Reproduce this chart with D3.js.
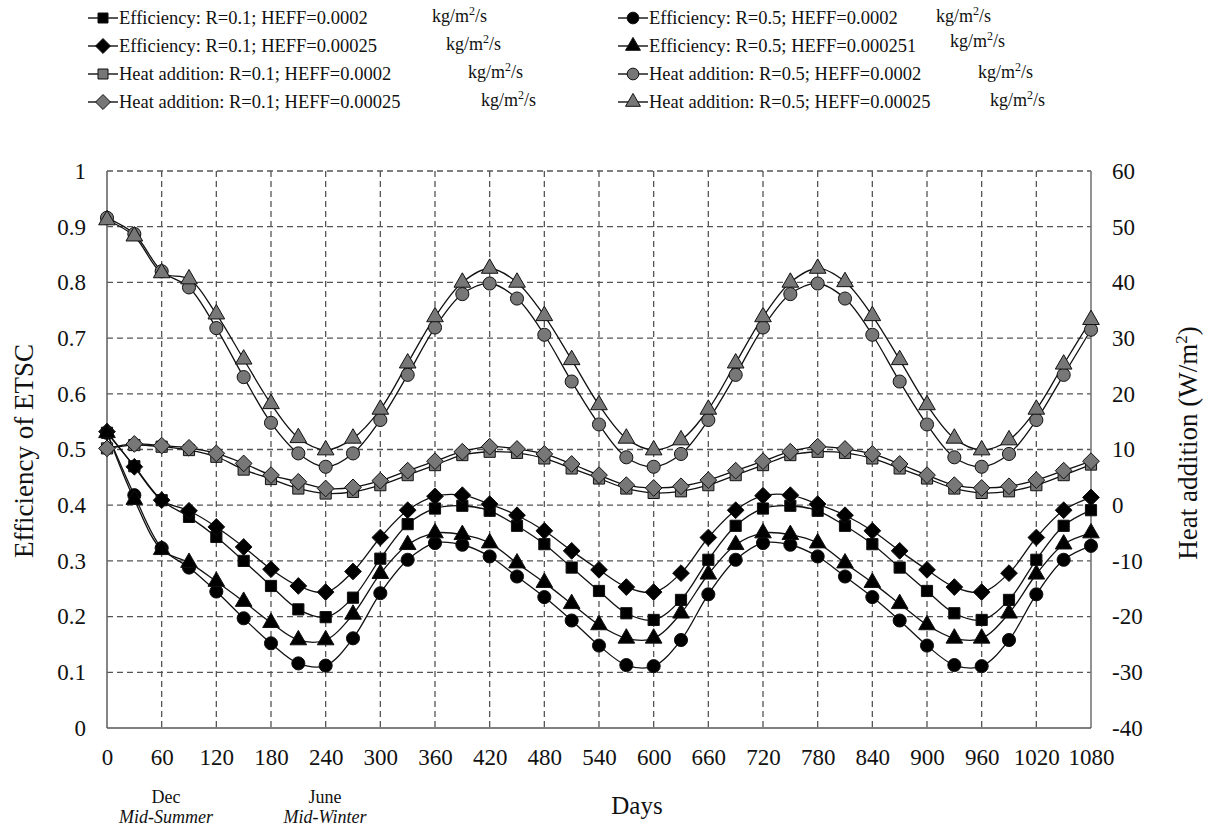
<!DOCTYPE html>
<html>
<head>
<meta charset="utf-8">
<script src="https://cdn.jsdelivr.net/npm/d3@7/dist/d3.min.js"></script>
<style>
  html, body { margin: 0; padding: 0; background: #fff; }
  svg { display: block; }
  text { font-family: "Liberation Serif", "Times New Roman", serif; fill: #111; }
</style>
</head>
<body>
<svg id="chart" width="1209" height="827"></svg>
<script>
// ---------------- DATA ----------------
const days = [0,30,60,90,120,150,180,210,240,270,300,330,360,390,420,450,480,510,540,570,600,630,660,690,720,750,780,810,840,870,900,930,960,990,1020,1050,1080];
const xTicks = [0,60,120,180,240,300,360,420,480,540,600,660,720,780,840,900,960,1020,1080];
const yLeftTicks = [0,0.1,0.2,0.3,0.4,0.5,0.6,0.7,0.8,0.9,1];
const yRightTicks = [-40,-30,-20,-10,0,10,20,30,40,50,60];

// Efficiency (left axis, fraction)
const effR01H0002 = [0.530,0.470,0.409,0.379,0.343,0.300,0.255,0.213,0.199,0.234,0.304,0.366,0.394,0.399,0.390,0.363,0.330,0.288,0.246,0.206,0.194,0.230,0.302,0.363,0.394,0.399,0.390,0.363,0.330,0.288,0.246,0.206,0.194,0.230,0.302,0.363,0.391];
const effR01H00025 = [0.532,0.469,0.409,0.390,0.361,0.325,0.285,0.255,0.244,0.281,0.342,0.391,0.416,0.418,0.402,0.382,0.354,0.318,0.284,0.253,0.244,0.278,0.342,0.391,0.417,0.418,0.402,0.382,0.354,0.318,0.284,0.253,0.244,0.278,0.342,0.391,0.414];
const effR05H0002 = [0.530,0.418,0.323,0.288,0.245,0.197,0.152,0.116,0.112,0.161,0.242,0.302,0.332,0.329,0.308,0.272,0.235,0.193,0.148,0.113,0.111,0.158,0.240,0.302,0.332,0.329,0.308,0.272,0.235,0.193,0.148,0.113,0.111,0.158,0.240,0.302,0.327];
const effR05H00025 = [0.530,0.410,0.320,0.297,0.263,0.227,0.189,0.158,0.158,0.204,0.277,0.329,0.350,0.347,0.332,0.296,0.261,0.223,0.185,0.161,0.161,0.206,0.276,0.329,0.350,0.347,0.332,0.296,0.261,0.223,0.185,0.161,0.161,0.206,0.276,0.330,0.350];

// Heat addition (right axis, W/m2)
const heatR01H0002 = [10.2,10.8,10.5,9.9,8.7,6.4,4.7,3.0,2.1,2.4,3.6,5.4,7.2,9.0,9.6,9.4,8.4,6.6,4.8,3.0,2.2,2.5,3.6,5.4,7.2,9.0,9.6,9.4,8.4,6.6,4.8,3.0,2.2,2.5,3.6,5.4,7.3];
const heatR01H00025 = [10.2,11.0,10.7,10.3,9.3,7.5,5.4,4.2,3.0,3.2,4.4,6.2,7.9,9.6,10.5,10.1,9.2,7.4,5.4,3.6,3.1,3.4,4.5,6.2,7.9,9.6,10.5,10.1,9.2,7.4,5.4,3.6,3.1,3.4,4.5,6.2,7.9];
const heatR05H0002 = [51.6,48.7,42.0,39.1,31.8,23.0,14.8,9.3,6.9,9.3,15.3,23.4,31.9,37.9,39.8,37.1,30.6,22.2,14.5,8.6,6.9,9.2,15.3,23.4,31.9,37.9,39.8,37.1,30.6,22.2,14.5,8.6,6.9,9.2,15.3,23.4,31.5];
const heatR05H00025 = [51.2,48.3,41.7,40.6,34.3,26.2,18.2,12.1,9.9,12.0,17.2,25.5,33.8,40.0,42.5,40.0,34.0,26.1,18.0,12.0,9.9,11.7,17.2,25.5,33.8,40.0,42.5,40.1,34.0,26.1,18.0,12.0,9.9,11.7,17.2,25.3,33.3];

const seriesLabels = [
  "Efficiency: R=0.1; HEFF=0.0002",
  "Efficiency: R=0.1; HEFF=0.00025",
  "Heat addition: R=0.1; HEFF=0.0002",
  "Heat addition: R=0.1; HEFF=0.00025",
  "Efficiency: R=0.5; HEFF=0.0002",
  "Efficiency: R=0.5; HEFF=0.000251",
  "Heat addition: R=0.5; HEFF=0.0002",
  "Heat addition: R=0.5; HEFF=0.00025"
];
const unitLabel = "kg/m";

// ---------------- LAYOUT ----------------
const svg = d3.select("#chart");
const x = d3.scaleLinear().domain([0,1080]).range([107,1091]);
const yL = d3.scaleLinear().domain([0,1]).range([728,171]);
const yR = d3.scaleLinear().domain([-40,60]).range([728,171]);

// square rotated 45 degrees (equal width & height)
const symbolRhombus = {
  draw(ctx, size) {
    const r = Math.sqrt(size / 2);
    ctx.moveTo(0, -r); ctx.lineTo(r, 0); ctx.lineTo(0, r); ctx.lineTo(-r, 0); ctx.closePath();
  }
};

const series = [
  {label: seriesLabels[0], values: effR01H0002,  axis: yL, shape: d3.symbolSquare,   size: 125, fill: "#000"},
  {label: seriesLabels[1], values: effR01H00025, axis: yL, shape: symbolRhombus,     size: 140, fill: "#000"},
  {label: seriesLabels[2], values: heatR01H0002, axis: yR, shape: d3.symbolSquare,   size: 125, fill: "#777"},
  {label: seriesLabels[3], values: heatR01H00025,axis: yR, shape: symbolRhombus,     size: 140, fill: "#777"},
  {label: seriesLabels[4], values: effR05H0002,  axis: yL, shape: d3.symbolCircle,   size: 135, fill: "#000"},
  {label: seriesLabels[5], values: effR05H00025, axis: yL, shape: d3.symbolTriangle, size: 120, fill: "#000"},
  {label: seriesLabels[6], values: heatR05H0002, axis: yR, shape: d3.symbolCircle,   size: 135, fill: "#777"},
  {label: seriesLabels[7], values: heatR05H00025,axis: yR, shape: d3.symbolTriangle, size: 120, fill: "#777"}
];

// ---------------- GRID ----------------
const grid = svg.append("g");
grid.selectAll("line.vx").data(xTicks.slice(1, -1)).enter().append("line")
  .attr("x1", d => x(d)).attr("x2", d => x(d))
  .attr("y1", yL(1)).attr("y2", yL(0))
  .attr("stroke", "#555").attr("stroke-width", 1.3).attr("stroke-dasharray", "6,4");
grid.selectAll("line.hy").data(yLeftTicks.slice(1)).enter().append("line")
  .attr("x1", x(0)).attr("x2", x(1080))
  .attr("y1", d => yL(d)).attr("y2", d => yL(d))
  .attr("stroke", "#555").attr("stroke-width", 1.3).attr("stroke-dasharray", "6,4");

// axes lines
svg.append("line").attr("x1", x(0)).attr("x2", x(0)).attr("y1", yL(1)).attr("y2", yL(0)).attr("stroke", "#666").attr("stroke-width", 1.6);
svg.append("line").attr("x1", x(1080)).attr("x2", x(1080)).attr("y1", yL(1)).attr("y2", yL(0)).attr("stroke", "#777").attr("stroke-width", 1.6);
svg.append("line").attr("x1", x(0)).attr("x2", x(1080)).attr("y1", yL(0)).attr("y2", yL(0)).attr("stroke", "#555").attr("stroke-width", 1.6);

// Axis tick labels
const axL = d3.axisLeft(yL).tickValues(yLeftTicks).tickSize(0).tickPadding(21).tickFormat(d => String(+d.toFixed(1)));
const gL = svg.append("g").attr("transform", `translate(${x(0)},0)`).call(axL);
const axR = d3.axisRight(yR).tickValues(yRightTicks).tickSize(0).tickPadding(21).tickFormat(d => String(d));
const gR = svg.append("g").attr("transform", `translate(${x(1080)},0)`).call(axR);
const axB = d3.axisBottom(x).tickValues(xTicks).tickSize(0).tickPadding(21).tickFormat(d => String(d));
const gB = svg.append("g").attr("transform", `translate(0,${yL(0)})`).call(axB);
[gL, gR, gB].forEach(g => {
  g.attr("font-family", null);
  g.select(".domain").remove();
  g.selectAll("text").style("font-family", '"Liberation Serif", serif').style("font-size", "23px").attr("fill", "#111");
});

// ---------------- LINES & MARKERS ----------------
const lineGen = (scale) => d3.line().x((d, i) => x(days[i])).y(d => scale(d)).curve(d3.curveCatmullRom.alpha(0.5));
const drawOrder = [6, 7, 2, 3, 0, 1, 4, 5];
drawOrder.forEach(si => {
  const s = series[si];
  svg.append("path").attr("d", lineGen(s.axis)(s.values))
    .attr("fill", "none").attr("stroke", "#111").attr("stroke-width", 1.3);
});
drawOrder.forEach(si => {
  const s = series[si];
  svg.append("g").selectAll("path").data(s.values).enter().append("path")
    .attr("d", d3.symbol().type(s.shape).size(s.size))
    .attr("transform", (d, i) => `translate(${x(days[i])},${s.axis(d)})`)
    .attr("fill", s.fill).attr("stroke", "#111").attr("stroke-width", 1);
});

// ---------------- AXIS TITLES ----------------
svg.append("text").attr("transform", "translate(33,451) rotate(-90)")
  .attr("text-anchor", "middle").style("font-size", "27px").text("Efficiency of ETSC");
const rt = svg.append("text").attr("transform", "translate(1197,443) rotate(-90)")
  .attr("text-anchor", "middle").style("font-size", "27px");
rt.append("tspan").text("Heat addition (W/m");
rt.append("tspan").attr("dy", -10).style("font-size", "17px").text("2");
rt.append("tspan").attr("dy", 10).text(")");
svg.append("text").attr("x", 637).attr("y", 814).attr("text-anchor", "middle").style("font-size", "25px").text("Days");

svg.append("text").attr("x", 166).attr("y", 803).attr("text-anchor", "middle").style("font-size", "18px").text("Dec");
svg.append("text").attr("x", 166).attr("y", 823).attr("text-anchor", "middle").style("font-size", "18px").style("font-style", "italic").text("Mid-Summer");
svg.append("text").attr("x", 325).attr("y", 803).attr("text-anchor", "middle").style("font-size", "18px").text("June");
svg.append("text").attr("x", 325).attr("y", 823).attr("text-anchor", "middle").style("font-size", "18px").style("font-style", "italic").text("Mid-Winter");

// ---------------- LEGEND ----------------
const legendCols = [88, 618];
const legendRows = [18, 46, 74, 102];
const unitX = [432, 446, 468, 481, 936, 950, 978, 990];
const unitDy = [0, 0, 0, 0, 0, -3, 0, 0];
series.forEach((s, i) => {
  const col = Math.floor(i / 4), row = i % 4;
  const lx = legendCols[col], ly = legendRows[row];
  const g = svg.append("g");
  g.append("line").attr("x1", lx).attr("x2", lx + 30).attr("y1", ly).attr("y2", ly)
    .attr("stroke", "#111").attr("stroke-width", 1.4);
  g.append("path").attr("d", d3.symbol().type(s.shape).size(s.size * 0.8))
    .attr("transform", `translate(${lx + 15},${ly})`)
    .attr("fill", s.fill).attr("stroke", "#111").attr("stroke-width", 1);
  g.append("text").attr("x", lx + 31).attr("y", ly + 6).style("font-size", "18.5px").text(s.label);
  const u = g.append("text").attr("x", unitX[i]).attr("y", ly + 4 + unitDy[i]).style("font-size", "18px");
  u.append("tspan").text(unitLabel);
  u.append("tspan").attr("dy", -7).style("font-size", "12px").text("2");
  u.append("tspan").attr("dy", 7).text("/s");
});
</script>
</body>
</html>
